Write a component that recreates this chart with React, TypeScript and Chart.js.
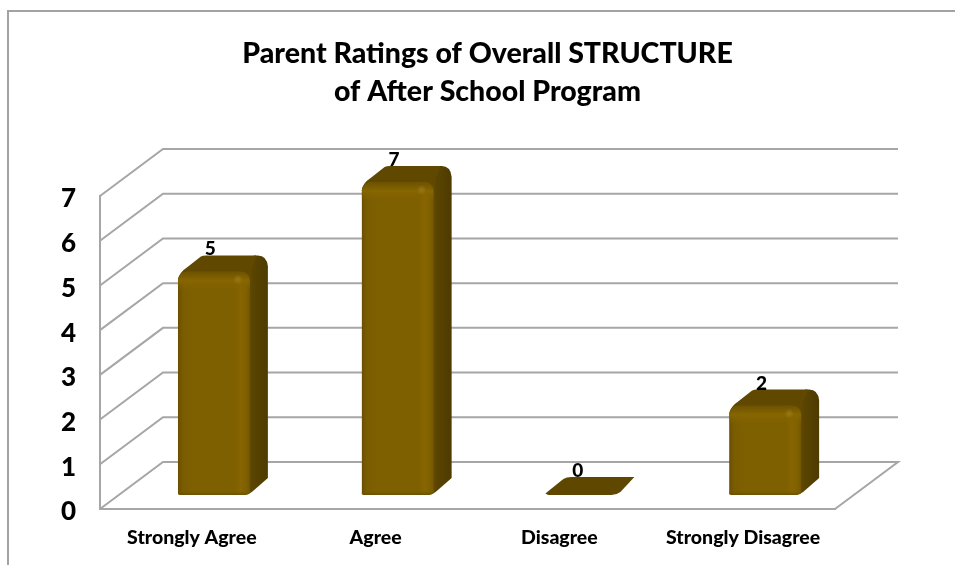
import React, { useEffect, useRef } from "react";
import { Chart, registerables, Plugin } from "chart.js";

Chart.register(...registerables);

const titleLines = ["Parent Ratings of Overall STRUCTURE", "of After School Program"];
const categories = ["Strongly Agree", "Agree", "Disagree", "Strongly Disagree"];
const ratings = [5, 7, 0, 2];
const axisMax = 7;

const FONT = "Lato, Carlito, sans-serif";
const WALL_DX = 63;
const WALL_DY = 47;
const BAR_SHIFT_X = 22;
const BAR_SHIFT_Y = 14;
const BAR_DX = 18;
const BAR_DY = 16;
const GRID = "#a6a6a6";

function linear(ctx: CanvasRenderingContext2D, x0: number, x1: number, stops: [number, string][]) {
  const g = ctx.createLinearGradient(x0, 0, x1, 0);
  stops.forEach(([p, c]) => g.addColorStop(p, c));
  return g;
}

function drawColumn(ctx: CanvasRenderingContext2D, x0: number, top: number, bottom: number, w: number) {
  const x1 = x0 + w;
  const h = bottom - top;

  if (h < 1) {
    // A zero value leaves only the flat cap of the column
    ctx.fillStyle = "#5f4700";
    ctx.beginPath();
    ctx.moveTo(x0, bottom - 1.5);
    ctx.lineTo(x0 + BAR_DX, bottom - 16);
    ctx.quadraticCurveTo(x0 + BAR_DX + 3, bottom - 18, x0 + BAR_DX + 8, bottom - 18);
    ctx.lineTo(x1 + BAR_DX - 1, bottom - 18);
    ctx.lineTo(x1 + 3, bottom - 3);
    ctx.quadraticCurveTo(x1 - 1, bottom, x1 - 6, bottom);
    ctx.lineTo(x0 + 3, bottom);
    ctx.closePath();
    ctx.fill();
    return;
  }

  // Right-hand side
  ctx.fillStyle = linear(ctx, x1 - 4, x1 + BAR_DX, [
    [0, "#6d5200"],
    [0.3, "#5a4400"],
    [1, "#4e3b00"],
  ]);
  ctx.beginPath();
  ctx.moveTo(x1 - 6, top + 2);
  ctx.lineTo(x1 + 4, top - BAR_DY);
  ctx.lineTo(x1 + BAR_DX - 10, top - BAR_DY);
  ctx.quadraticCurveTo(x1 + BAR_DX - 1, top - BAR_DY, x1 + BAR_DX, top - BAR_DY + 11);
  ctx.lineTo(x1 + BAR_DX, bottom - BAR_DY - 1);
  ctx.lineTo(x1 + 2, bottom - 3);
  ctx.quadraticCurveTo(x1 - 2, bottom, x1 - 8, bottom);
  ctx.closePath();
  ctx.fill();

  // Cap, curving round from the front face's left corner
  ctx.fillStyle = "#604800";
  ctx.beginPath();
  ctx.moveTo(x0, top + 9);
  ctx.quadraticCurveTo(x0 + 1, top + 1, x0 + 9, top - 4);
  ctx.lineTo(x0 + BAR_DX + 5, top - BAR_DY + 1);
  ctx.quadraticCurveTo(x0 + BAR_DX + 7, top - BAR_DY, x0 + BAR_DX + 10, top - BAR_DY);
  ctx.lineTo(x1 + BAR_DX - 12, top - BAR_DY);
  ctx.quadraticCurveTo(x1 + 8, top - BAR_DY, x1 - 2, top + 5);
  ctx.lineTo(x1 - 8, top + 9);
  ctx.closePath();
  ctx.fill();

  // Front face with its soft bevels
  const r = 11;
  const face = new Path2D();
  face.moveTo(x0, bottom - 1);
  face.lineTo(x0, top + r);
  face.quadraticCurveTo(x0, top, x0 + r, top);
  face.lineTo(x1 - r, top);
  face.quadraticCurveTo(x1, top, x1, top + r);
  face.lineTo(x1, bottom - 2);
  face.quadraticCurveTo(x1 - 2, bottom, x1 - 8, bottom);
  face.lineTo(x0 + 2, bottom);
  face.closePath();

  ctx.save();
  ctx.clip(face);
  ctx.fillStyle = linear(ctx, x0, x1 + 1, [
    [0, "#6a4f00"],
    [0.07, "#7a5c00"],
    [0.2, "#7f6000"],
    [0.78, "#7f6000"],
    [0.86, "#876500"],
    [0.94, "#7f6000"],
    [1, "#6e5300"],
  ]);
  ctx.fillRect(x0, top, w + 1, h);

  const bevel = ctx.createLinearGradient(0, top, 0, top + 20);
  bevel.addColorStop(0, "rgba(104,78,0,0.8)");
  bevel.addColorStop(0.45, "rgba(136,103,0,0.9)");
  bevel.addColorStop(1, "rgba(127,96,0,0)");
  ctx.fillStyle = bevel;
  ctx.fillRect(x0, top, w + 1, 20);

  const foot = ctx.createLinearGradient(0, bottom - 5, 0, bottom);
  foot.addColorStop(0, "rgba(127,96,0,0)");
  foot.addColorStop(1, "rgba(100,75,0,0.8)");
  ctx.fillStyle = foot;
  ctx.fillRect(x0, bottom - 5, w + 1, 5);

  const glint = ctx.createRadialGradient(x1 - 12, top + 8, 0, x1 - 12, top + 8, 5);
  glint.addColorStop(0, "rgba(160,126,30,0.7)");
  glint.addColorStop(1, "rgba(160,126,30,0)");
  ctx.fillStyle = glint;
  ctx.fillRect(x1 - 20, top, 20, 18);
  ctx.restore();
}

// Draws the wall grid, the outer frame and the columns around the library's scales
const depthPlugin: Plugin = {
  id: "depth",
  afterLayout(chart: any) {
    // The heading sits over the whole plot including its receding part
    chart.titleBlock.left = 120;
    chart.titleBlock.right = 855;
  },
  beforeDraw(chart) {
    const { ctx } = chart;
    ctx.save();
    ctx.strokeStyle = "#a3a3a3";
    ctx.lineWidth = 2;
    ctx.beginPath();
    ctx.moveTo(8, chart.height);
    ctx.lineTo(8, 11);
    ctx.lineTo(chart.width, 11);
    ctx.stroke();
    ctx.restore();
  },
  beforeDatasetsDraw(chart) {
    const { ctx, chartArea, scales } = chart;
    const y = scales.y;
    ctx.save();
    ctx.strokeStyle = GRID;
    ctx.lineWidth = 2;
    ctx.lineJoin = "miter";
    for (const tick of y.ticks) {
      const py = y.getPixelForValue(tick.value);
      ctx.beginPath();
      ctx.moveTo(chartArea.left, py);
      ctx.lineTo(chartArea.left + WALL_DX, py - WALL_DY);
      ctx.lineTo(chartArea.right + WALL_DX, py - WALL_DY);
      if (tick.value === 0) ctx.lineTo(chartArea.right, py);
      ctx.stroke();
    }
    ctx.restore();
  },
  afterDatasetsDraw(chart) {
    const { ctx, scales } = chart;
    const meta = chart.getDatasetMeta(0);
    ctx.save();
    meta.data.forEach((el: any, i: number) => {
      const x0 = el.x - el.width / 2 + BAR_SHIFT_X;
      const base = scales.y.getPixelForValue(0) - BAR_SHIFT_Y;
      const top = el.y - BAR_SHIFT_Y;
      drawColumn(ctx, x0, top, base, el.width);

      ctx.fillStyle = "#000";
      ctx.font = `900 19px ${FONT}`;
      ctx.textAlign = "center";
      ctx.textBaseline = "alphabetic";
      const capY = ratings[i] === 0 ? base - 18 : top - BAR_DY;
      ctx.fillText(String(ratings[i]), x0 + 32.5, capY);
    });
    ctx.restore();
  },
};

export default function App() {
  const ref = useRef<HTMLCanvasElement>(null);

  useEffect(() => {
    const chart = new Chart(ref.current!, {
      type: "bar",
      data: {
        labels: categories,
        datasets: [
          {
            label: "Parent ratings",
            data: ratings,
            backgroundColor: "transparent",
            borderWidth: 0,
            categoryPercentage: 1,
            barPercentage: 0.392,
          },
        ],
      },
      options: {
        responsive: false,
        animation: false,
        layout: { padding: { top: 35, right: 120, bottom: 0, left: 0 } },
        plugins: {
          legend: { display: false },
          tooltip: { enabled: false },
          title: {
            display: true,
            text: titleLines,
            color: "#000",
            font: { family: FONT, size: 28.5, weight: "900", lineHeight: 38 / 28.5 },
            padding: { top: 0, bottom: 85 },
          },
        },
        scales: {
          x: {
            grid: { display: false, drawTicks: false },
            border: { display: true, color: GRID, width: 2 },
            ticks: {
              color: "#000",
              font: { family: FONT, size: 19.5, weight: "900" },
              padding: 17,
              maxRotation: 0,
              autoSkip: false,
            },
            afterFit: (s: any) => {
              s.height = 56;
            },
          },
          y: {
            min: 0,
            max: axisMax,
            grid: { display: false, drawTicks: false },
            border: { display: true, color: GRID, width: 2 },
            ticks: {
              stepSize: 1,
              color: "#000",
              font: { family: FONT, size: 26, weight: "900" },
              padding: 24,
              labelOffset: 3,
            },
            afterFit: (s: any) => {
              s.width = 100;
            },
          },
        },
      },
      plugins: [depthPlugin],
    });
    return () => chart.destroy();
  }, []);

  return (
    <div style={{ position: "fixed", left: 0, top: 0, width: 955, height: 565, background: "#fff" }}>
      <canvas ref={ref} width={955} height={565} style={{ display: "block" }} />
    </div>
  );
}
